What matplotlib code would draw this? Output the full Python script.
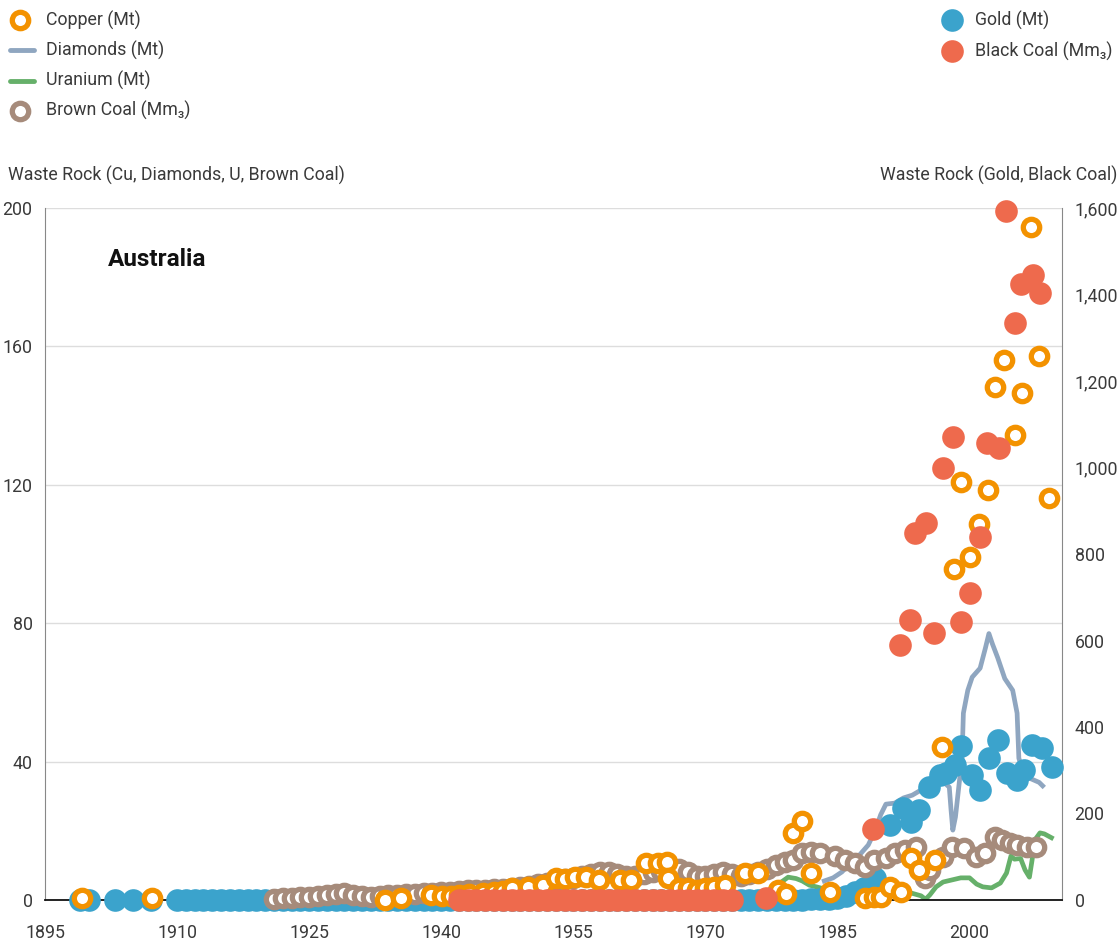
import matplotlib
matplotlib.use("Agg")
import matplotlib.pyplot as plt
from matplotlib.lines import Line2D
from matplotlib.ticker import FuncFormatter

plt.rcParams['font.family'] = ['Roboto', 'DejaVu Sans']

# ---- data ----
copper_years = [1899.2, 1907.2, 1933.6, 1935.4, 1938.8, 1940.1, 1941.1, 1942.0, 1943.2,
                1944.8, 1946.0, 1947.0, 1948.0, 1949.9, 1951.6, 1953.0, 1954.1, 1955.2,
                1956.4, 1957.9, 1960.3, 1961.6, 1963.2, 1964.6, 1965.6, 1965.8, 1967.0,
                1968.0, 1969.0, 1970.0, 1971.0, 1972.2, 1974.5, 1976.0, 1978.2, 1979.1,
                1979.9, 1981.0, 1982.0, 1984.1, 1988.1, 1989.2, 1989.9, 1991.0, 1992.2,
                1993.3, 1994.3, 1996.1, 1996.9, 1998.2, 1999.0, 2000.0, 2001.1, 2002.1,
                2002.9, 2003.9, 2005.2, 2006.0, 2007.0, 2007.9, 2009.0]
copper_vals = [0.5, 0.5, 0.0, 0.5, 1.4, 1.2, 1.2, 1.4, 1.6,
               2.0, 2.3, 2.6, 3.5, 3.8, 4.3, 6.4, 6.1, 6.6,
               6.6, 5.8, 5.8, 5.8, 10.7, 10.7, 11.0, 6.4, 3.5,
               3.5, 2.9, 3.5, 3.8, 4.3, 7.8, 7.8, 2.9, 1.7,
               19.4, 22.8, 7.8, 2.3, 0.6, 0.9, 0.9, 3.8, 2.3,
               12.1, 8.7, 11.6, 44.2, 95.6, 120.7, 99.1, 108.6, 118.4,
               148.2, 156.0, 134.3, 146.4, 194.4, 157.1, 116.1]

diamond_years = [1983.5, 1984.5, 1985.5, 1986.5, 1987.5, 1988.5, 1989.3, 1989.9, 1990.5,
                 1991.5, 1992.5, 1993.5, 1994.5, 1995.5, 1996.5, 1997.1, 1997.7, 1997.9,
                 1998.1, 1998.4, 1998.9, 1999.1, 1999.3, 1999.8, 2000.3, 2001.2, 2001.8,
                 2002.2, 2002.6, 2003.2, 2004.0, 2004.9, 2005.4, 2005.6, 2006.2, 2007.0,
                 2007.9, 2008.3]
diamond_vals = [5.5, 6.4, 8.1, 10.7, 13.0, 15.9, 20.2, 24.6, 27.7,
                28.0, 29.5, 30.3, 31.8, 33.2, 33.8, 34.0, 32.6, 26.0,
                20.2, 24.0, 35.5, 37.0, 54.0, 60.6, 64.4, 67.0, 72.8,
                77.0, 74.0, 70.0, 64.0, 60.6, 54.0, 41.0, 35.5, 35.0,
                34.0, 33.0]

uranium_years = [1978.8, 1979.4, 1980.3, 1981.0, 1981.8, 1982.6, 1983.5, 1984.5, 1985.5,
                 1986.5, 1987.4, 1988.4, 1989.4, 1990.5, 1991.5, 1992.3, 1993.4, 1994.5,
                 1995.0, 1995.5, 1996.2, 1997.0, 1998.0, 1999.0, 2000.0, 2000.8, 2001.5,
                 2002.5, 2003.5, 2004.2, 2004.7, 2005.1, 2005.8, 2006.3, 2006.8, 2007.1,
                 2007.4, 2008.0, 2008.5, 2009.3]
uranium_vals = [5.5, 6.6, 6.2, 5.5, 4.3, 3.8, 3.2, 2.9, 2.9,
                3.5, 4.6, 5.5, 5.8, 4.3, 3.5, 2.9, 2.0, 1.2,
                0.2, 1.5, 3.8, 5.2, 5.8, 6.4, 6.4, 4.6, 3.8,
                3.5, 4.9, 7.8, 12.7, 11.8, 12.0, 8.7, 6.6, 11.5,
                17.3, 19.4, 19.1, 18.0]

brown_years = [1921, 1922, 1923, 1924, 1925, 1926, 1927, 1928, 1929, 1930,
               1931, 1932, 1933, 1934, 1935, 1936, 1937, 1938, 1939, 1940,
               1941, 1942, 1943, 1944, 1945, 1946, 1947, 1948, 1949, 1950,
               1951, 1952, 1953, 1954, 1955, 1956, 1957, 1958, 1959, 1960,
               1961, 1962, 1963, 1964, 1965, 1966, 1967, 1968, 1969, 1970,
               1971, 1972, 1973, 1974, 1975, 1976, 1977, 1978, 1979, 1980,
               1981, 1982, 1983, 1984.7, 1985.8, 1987.0, 1988.1, 1989.2, 1990.5, 1991.5,
               1992.7, 1993.9, 1994.9, 1995.5, 1997.0, 1998.0, 1999.4, 2000.7, 2001.7, 2002.9,
               2003.7, 2004.6, 2005.4, 2006.5, 2007.5]
brown_vals = [0.3, 0.5, 0.6, 0.8, 1.0, 1.2, 1.4, 1.7, 2.0, 1.5,
              1.2, 1.0, 1.2, 1.4, 1.5, 1.7, 1.8, 2.0, 2.0, 2.2,
              2.4, 2.6, 2.8, 3.0, 3.0, 3.2, 3.3, 3.5, 3.7, 4.0,
              4.5, 5.0, 5.5, 6.0, 6.5, 7.0, 7.5, 8.0, 8.2, 7.5,
              7.0, 7.0, 7.5, 8.0, 8.5, 8.5, 9.0, 8.0, 7.0, 7.0,
              7.5, 8.0, 7.5, 7.0, 7.5, 8.0, 9.0, 10.0, 11.0, 11.5,
              13.5, 14.0, 13.5, 12.7, 11.6, 10.7, 9.5, 11.6, 12.1, 13.6,
              14.5, 15.3, 6.4, 8.7, 12.4, 15.3, 15.0, 12.4, 13.6, 18.2,
              17.3, 16.5, 15.9, 15.3, 15.3]

gold_years = [1899, 1900, 1903, 1905, 1907,
              1910, 1911, 1912, 1913, 1914, 1915, 1916, 1917, 1918, 1919,
              1920, 1921, 1922, 1923, 1924, 1925, 1926, 1927, 1928, 1929,
              1930, 1931, 1932, 1933, 1934, 1935, 1936, 1937, 1938, 1939,
              1940, 1941, 1942, 1943, 1944, 1945, 1946, 1947, 1948, 1949,
              1950, 1951, 1952, 1953, 1954, 1955, 1956, 1957, 1958, 1959,
              1960, 1961, 1962, 1963, 1964, 1965, 1966, 1967, 1968, 1969,
              1970, 1971, 1972, 1973, 1974, 1975, 1976, 1977, 1978, 1979,
              1980, 1981, 1982, 1983, 1984, 1985, 1986, 1987, 1988, 1989.3,
              1991.0, 1992.4, 1993.3, 1994.3, 1995.4, 1996.6, 1997.3, 1998.3, 1999.0,
              2000.3, 2001.2, 2002.2, 2003.2, 2004.3, 2005.4, 2006.2, 2007.1, 2008.2, 2009.4]
gold_vals = [0, 0, 0, 0, 0,
             0, 0, 0, 0, 0, 0, 0, 0, 0, 0,
             0, 0, 0, 0, 0, 0, 0, 0, 0, 0,
             0, 0, 0, 0, 0, 0, 0, 0, 0, 0,
             0, 0, 0, 0, 0, 0, 0, 0, 0, 0,
             0, 0, 0, 0, 0, 0, 0, 0, 0, 0,
             0, 0, 0, 0, 0, 0, 0, 0, 0, 0,
             0, 0, 0, 0, 0, 0, 0, 0, 0, 0,
             0, 0, 2, 3, 2, 5, 10, 18, 28, 51,
             173, 212, 180, 208, 261, 289, 293, 312, 356,
             289, 254, 328, 370, 293, 277, 300, 358, 351, 307]

coal_years = [1942, 1943, 1944, 1945, 1946, 1947, 1948, 1949, 1950, 1951,
              1952, 1953, 1954, 1955, 1956, 1957, 1958, 1959, 1960, 1961,
              1962, 1963, 1964, 1965, 1966, 1967, 1968, 1969, 1970, 1971,
              1972, 1973, 1976.9, 1989.0, 1992.1, 1993.2, 1993.8, 1995.0, 1996.0, 1997.0,
              1998.1, 1999.0, 2000.1, 2001.2, 2002.0, 2003.4, 2004.1, 2005.2, 2005.8, 2007.2,
              2008.0]
coal_vals = [0, 0, 0, 0, 0, 0, 0, 0, 0, 0,
             0, 0, 0, 0, 0, 0, 0, 0, 0, 0,
             0, 0, 0, 0, 0, 0, 0, 0, 0, 0,
             0, 0, 5, 164, 589, 647, 848, 871, 617, 1000,
             1070, 642, 709, 839, 1056, 1046, 1594, 1333, 1425, 1444,
             1404]

x_ticks = [1895, 1910, 1925, 1940, 1955, 1970, 1985, 2000]
left_ticks = [0, 40, 80, 120, 160, 200]
right_ticks = [0, 200, 400, 600, 800, 1000, 1200, 1400, 1600]

# ---- styles ----
C_COPPER = '#F39200'
C_DIAM = '#8FA6C0'
C_URAN = '#66B06A'
C_BROWN = '#A68B7B'
C_GOLD = '#3BA3CC'
C_COAL = '#EE6A4D'
TXT = '#3a3a3a'
FS = 12.8
W, H = 1118, 940

open_kw = dict(marker='o', ms=11.8, mfc='white', mew=3.8, ls='none', clip_on=False)
fill_kw = dict(marker='o', ms=16.3, mew=0, ls='none', clip_on=False)

fig = plt.figure(figsize=(W / 100, H / 100), dpi=100)
rect = [45 / W, 1 - 900 / H, (1062 - 45) / W, (900 - 208) / H]

# base axis: spines, grid, left ticks, line series
ax = fig.add_axes(rect)
ax.set_xlim(1895, 2010.5)
ax.set_ylim(0, 200)
ax.set_xticks(x_ticks)
ax.set_yticks(left_ticks)
ax.tick_params(length=0, labelsize=FS, labelcolor=TXT)
ax.tick_params(axis='y', pad=9)
ax.tick_params(axis='x', pad=17)
ax.grid(axis='y', color='#dddddd', lw=1)
ax.set_axisbelow(True)
ax.spines['top'].set_visible(False)
ax.spines['left'].set_color('#888888')
ax.spines['right'].set_color('#888888')
ax.spines['bottom'].set_color('#111111')
ax.spines['bottom'].set_linewidth(1.3)
ax.plot(diamond_years, diamond_vals, color=C_DIAM, lw=3.4, solid_joinstyle='round')
ax.plot(uranium_years, uranium_vals, color=C_URAN, lw=3.4, solid_joinstyle='round')


def overlay(ymax):
    a = fig.add_axes(rect, sharex=ax)
    a.set_ylim(0, ymax)
    a.patch.set_visible(False)
    for s in a.spines.values():
        s.set_visible(False)
    a.tick_params(left=False, labelleft=False, bottom=False, labelbottom=False)
    return a


axg = overlay(1600)
axg.plot(gold_years, gold_vals, color=C_GOLD, **fill_kw)

axb = overlay(200)
axb.plot(brown_years, brown_vals, mec=C_BROWN, **open_kw)
axb.plot(copper_years, copper_vals, mec=C_COPPER, **open_kw)

axc = overlay(1600)
axc.plot(coal_years, coal_vals, color=C_COAL, **fill_kw)
axc.yaxis.tick_right()
axc.set_yticks(right_ticks)
axc.yaxis.set_major_formatter(FuncFormatter(lambda v, p: f'{int(v):,}'))
axc.tick_params(axis='y', right=False, labelright=True, length=0, pad=9,
                labelsize=FS, labelcolor=TXT)


# ---- legend & titles (figure pixels) ----
def px(x, y):
    return x / W, 1 - y / H


left_items = [('Copper (Mt)', 'open', C_COPPER), ('Diamonds (Mt)', 'line', C_DIAM),
              ('Uranium (Mt)', 'line', C_URAN), ('Brown Coal (Mm\u2083)', 'open', C_BROWN)]
for i, (lab, kind, col) in enumerate(left_items):
    y = 20 + i * 30.3
    if kind == 'line':
        fig.add_artist(Line2D([px(10, y)[0], px(34, y)[0]], [px(10, y)[1]] * 2,
                              transform=fig.transFigure, color=col, lw=3.5,
                              solid_capstyle='round'))
    else:
        fig.add_artist(Line2D([px(20, y)[0]], [px(20, y)[1]], transform=fig.transFigure,
                              mec=col, **open_kw))
    fig.text(*px(46, y), lab, fontsize=FS, color=TXT, va='center', ha='left')

right_items = [('Gold (Mt)', C_GOLD), ('Black Coal (Mm\u2083)', C_COAL)]
for i, (lab, col) in enumerate(right_items):
    y = 20 + i * 31
    fig.add_artist(Line2D([px(952, y)[0]], [px(952, y)[1]], transform=fig.transFigure,
                          color=col, **fill_kw))
    fig.text(*px(975, y), lab, fontsize=FS, color=TXT, va='center', ha='left')

fig.text(*px(8, 175), 'Waste Rock (Cu, Diamonds, U, Brown Coal)', fontsize=FS,
         color=TXT, va='center', ha='left')
fig.text(*px(880, 175), 'Waste Rock (Gold, Black Coal)', fontsize=FS,
         color=TXT, va='center', ha='left')
fig.text(*px(108, 259), 'Australia', fontsize=17.5, fontweight='bold', color='#111111',
         va='center', ha='left')

fig.savefig('out.png', dpi=100)
